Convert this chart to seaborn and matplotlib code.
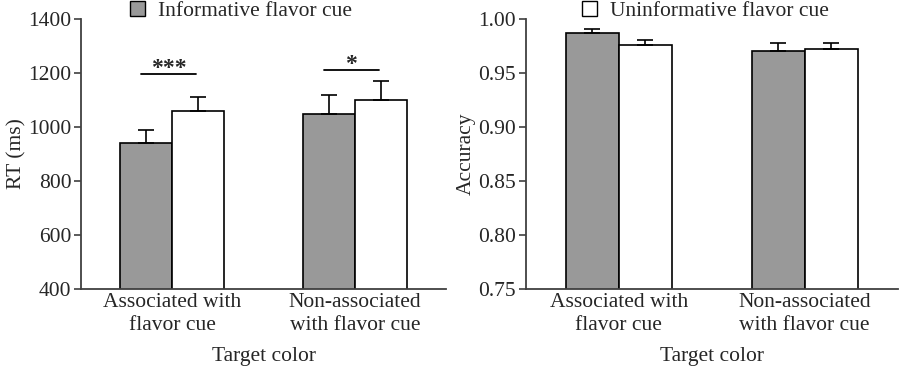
import numpy as np
import pandas as pd
import matplotlib
matplotlib.use('Agg')
import matplotlib.pyplot as plt
import seaborn as sns
from matplotlib.patches import Patch

sns.set_style('white')
plt.rcParams['font.family'] = ['Liberation Serif', 'DejaVu Serif']
plt.rcParams['font.size'] = 15.5

# data
groups = ['Associated with\nflavor cue', 'Non-associated\nwith flavor cue']
conditions = ['Informative flavor cue', 'Uninformative flavor cue']
rt_mean = {'Informative flavor cue': [940, 1048], 'Uninformative flavor cue': [1059, 1100]}
rt_err = {'Informative flavor cue': [49, 70], 'Uninformative flavor cue': [52, 70]}
acc_mean = {'Informative flavor cue': [0.987, 0.970], 'Uninformative flavor cue': [0.976, 0.972]}
acc_err = {'Informative flavor cue': [0.004, 0.008], 'Uninformative flavor cue': [0.005, 0.006]}
rt_ticks = [400, 600, 800, 1000, 1200, 1400]
acc_ticks = [0.75, 0.80, 0.85, 0.90, 0.95, 1.00]
sig_marks = ['***', '*']
sig_spans = [(-0.17, 0.13), (0.83, 1.13)]
sig_y = [1196, 1211]

palette = {'Informative flavor cue': '#999999', 'Uninformative flavor cue': 'white'}
spine_col = '#404040'
fs = 15.5


def make_df(means):
    rows = []
    for c in conditions:
        for g, v in zip(groups, means[c]):
            rows.append({'group': g, 'cond': c, 'val': v})
    return pd.DataFrame(rows)


fig = plt.figure(figsize=(9, 3.68), dpi=100)
ax1 = fig.add_axes([0.09, 0.2147, 0.4056, 0.7337])
ax2 = fig.add_axes([0.5844, 0.2147, 0.413, 0.7337])

for ax, means, errs, ticks, ylab in [(ax1, rt_mean, rt_err, rt_ticks, 'RT (ms)'),
                                      (ax2, acc_mean, acc_err, acc_ticks, 'Accuracy')]:
    df = make_df(means)
    sns.barplot(data=df, x='group', y='val', hue='cond', hue_order=conditions,
                palette=palette, edgecolor='black', linewidth=1.2, width=0.57,
                errorbar=None, ax=ax, legend=False)
    for cont, c in zip(ax.containers, conditions):
        xs = [p.get_x() + p.get_width() / 2 for p in cont]
        ax.errorbar(xs, means[c], yerr=[np.zeros(2), errs[c]], fmt='none',
                    ecolor='black', elinewidth=1.2, capsize=6, capthick=1.2, zorder=1)
    ax.set_ylim(ticks[0], ticks[-1])
    ax.set_xlim(-0.5, 1.5)
    ax.set_yticks(ticks)
    ax.set_xlabel('Target color', fontsize=fs, labelpad=9)
    ax.set_ylabel(ylab, fontsize=fs)
    ax.tick_params(axis='y', direction='out', length=5, width=1.2, color=spine_col, labelsize=fs, pad=2, left=True)
    ax.tick_params(axis='x', length=0, labelsize=fs, pad=3)
    for lbl in ax.get_xticklabels():
        lbl.set_linespacing(1.25)
    for s in ['top', 'right']:
        ax.spines[s].set_visible(False)
    for s in ['left', 'bottom']:
        ax.spines[s].set_color(spine_col)
        ax.spines[s].set_linewidth(1.3)

ax2.yaxis.set_major_formatter(matplotlib.ticker.FormatStrFormatter('%.2f'))
ax1.yaxis.labelpad = 1
ax2.yaxis.labelpad = 2

for mark, (x0, x1), y in zip(sig_marks, sig_spans, sig_y):
    ax1.plot([x0, x1], [y, y], color='black', lw=1.3)
    ax1.text((x0 + x1) / 2, y - 18, mark, ha='center', va='bottom', fontsize=17, fontweight='bold')

# one legend entry above each panel
for ax, c, anchor in [(ax1, conditions[0], (0.134, 1.067)), (ax2, conditions[1], (0.15, 1.067))]:
    h = Patch(facecolor=palette[c], edgecolor='black', linewidth=1)
    ax.legend(handles=[h], labels=[c], loc='upper left', bbox_to_anchor=anchor,
              frameon=False, fontsize=fs, handlelength=0.7, handleheight=0.7,
              handletextpad=0.6, borderaxespad=0, borderpad=0)

fig.savefig('out.png', dpi=100)
